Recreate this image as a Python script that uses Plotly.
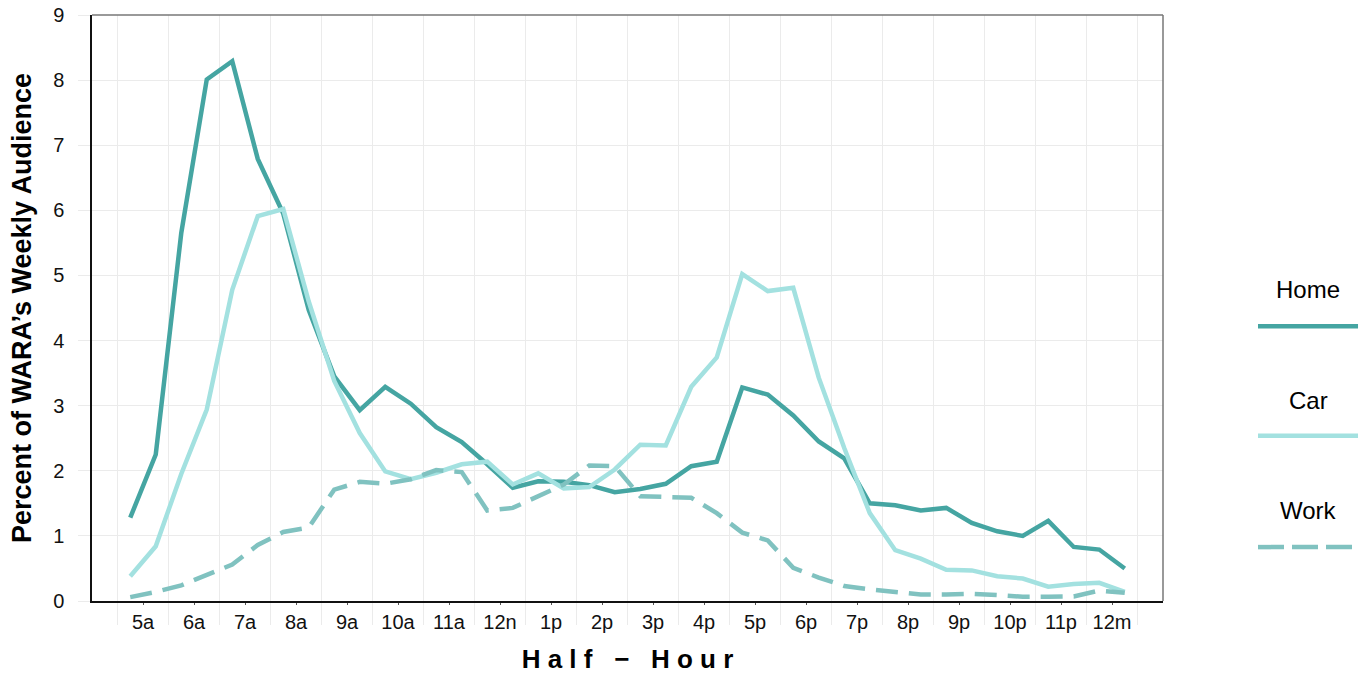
import plotly.graph_objects as go

hour_labels = ["5a", "6a", "7a", "8a", "9a", "10a", "11a", "12n", "1p", "2p",
               "3p", "4p", "5p", "6p", "7p", "8p", "9p", "10p", "11p", "12m"]

# 40 half-hour periods, 5:00a .. 12:30a (plotted at half-hour midpoints)
half_hour_pos = [0.25 + 0.5 * i for i in range(40)]

home = [1.28, 2.25, 5.65, 8.01, 8.29, 6.79, 5.95, 4.47, 3.45, 2.93,
        3.29, 3.03, 2.67, 2.44, 2.10, 1.74, 1.84, 1.83, 1.78, 1.67,
        1.72, 1.80, 2.07, 2.14, 3.28, 3.17, 2.85, 2.45, 2.19, 1.50,
        1.47, 1.39, 1.43, 1.20, 1.07, 1.00, 1.23, 0.83, 0.79, 0.50]

car = [0.38, 0.84, 1.95, 2.94, 4.78, 5.91, 6.02, 4.60, 3.38, 2.58,
       1.99, 1.87, 1.97, 2.10, 2.14, 1.79, 1.96, 1.73, 1.75, 2.02,
       2.40, 2.39, 3.29, 3.74, 5.02, 4.76, 4.81, 3.43, 2.35, 1.35,
       0.78, 0.65, 0.48, 0.47, 0.38, 0.345, 0.22, 0.26, 0.28, 0.14]

work = [0.06, 0.14, 0.24, 0.40, 0.56, 0.86, 1.06, 1.13, 1.71, 1.83,
        1.80, 1.87, 2.01, 1.98, 1.39, 1.43, 1.61, 1.79, 2.08, 2.07,
        1.61, 1.60, 1.585, 1.35, 1.05, 0.93, 0.51, 0.36, 0.23, 0.18,
        0.135, 0.10, 0.10, 0.11, 0.09, 0.065, 0.065, 0.07, 0.16, 0.125]

series_names = ["Home", "Car", "Work"]
colors = {"Home": "#45A5A2", "Car": "#A3E1E0", "Work": "#80C2C0"}
dashes = {"Home": "solid", "Car": "solid", "Work": "22px,11px"}
values = {"Home": home, "Car": car, "Work": work}

FONT = "Liberation Sans, Arial, sans-serif"
GRID = "#EBEBEB"
NB = "\u00a0"

fig = go.Figure()
for name in series_names:
    fig.add_trace(go.Scatter(
        x=half_hour_pos, y=values[name], mode="lines", name=name,
        line=dict(color=colors[name], width=4.5, dash=dashes[name]),
        showlegend=False, hoverinfo="x+y+name"))

fig.update_layout(
    width=1361, height=675,
    margin=dict(l=92, r=198, t=15, b=74),
    paper_bgcolor="white", plot_bgcolor="white",
    font=dict(family=FONT, color="#000000", size=20),
    showlegend=False,
)

x_title = NB.join("Half") + NB * 3 + "−" + NB * 3 + NB.join("Hour")

fig.update_xaxes(
    range=[-0.5, 20.5],
    automargin=False,
    tickmode="array",
    tickvals=[k + 0.5 for k in range(len(hour_labels))],
    ticktext=hour_labels,
    showgrid=False, zeroline=False,
    ticks="outside", ticklen=2, tickcolor="#555555", tickwidth=1,
    tickfont=dict(size=20, color="#111111"),
    showline=True, linecolor="#111111", linewidth=1.5,
    minor=dict(tickmode="array", tickvals=list(range(0, 21)),
               showgrid=True, gridcolor=GRID, gridwidth=1,
               ticks="outside", ticklen=22, tickcolor=GRID, tickwidth=1),
    title=dict(text=x_title,
               font=dict(size=26, family=FONT, color="#000000", weight="bold"),
               standoff=18),
)

fig.update_yaxes(
    range=[0, 9],
    automargin=False,
    ticklabeloverflow="allow",
    tickmode="array", tickvals=list(range(0, 10)),
    showgrid=True, gridcolor=GRID, gridwidth=1, zeroline=False,
    ticks="outside", ticklen=12, tickcolor=GRID, tickwidth=1,
    ticklabelstandoff=10,
    tickfont=dict(size=20, color="#111111"),
    showline=True, linecolor="#111111", linewidth=1.5,
    title=dict(text="Percent of WARA’s Weekly Audience",
               font=dict(size=27, family=FONT, color="#000000", weight="bold"),
               standoff=14),
)

# top and right border (grey)
fig.add_shape(type="line", xref="x domain", yref="y domain",
              x0=0, x1=1, y0=1, y1=1, line=dict(color="#777777", width=1.5))
fig.add_shape(type="line", xref="x domain", yref="y domain",
              x0=1, x1=1, y0=0, y1=1, line=dict(color="#777777", width=1.5))

# custom legend (text above a long line sample)
legend_rows = [("Home", 0.531, 0.469), ("Car", 0.343, 0.282), ("Work", 0.154, 0.092)]
for name, ty, ly in legend_rows:
    fig.add_annotation(xref="paper", yref="paper", x=1.1354, y=ty,
                       text=name, showarrow=False,
                       font=dict(size=24, family=FONT, color="#000000"),
                       xanchor="center", yanchor="middle")
    fig.add_shape(type="line", xref="paper", yref="paper",
                  x0=1.0887, x1=1.1821, y0=ly, y1=ly,
                  line=dict(color=colors[name], width=4.5,
                            dash="26px,8px" if name == "Work" else "solid"))

fig.write_html("out.html",
               config={"displayModeBar": False},
               post_script="document.body.style.margin='0';document.body.style.padding='0';")
